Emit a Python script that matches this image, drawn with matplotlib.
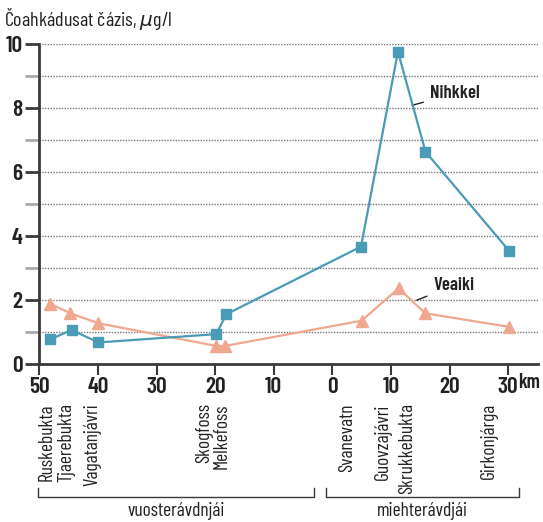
import matplotlib
matplotlib.use('Agg')
import matplotlib.pyplot as plt
from matplotlib.ticker import FixedLocator

# --------------------------------------------------------------------------------------
# Data (distance along river, km; west side negative)

stations    = ['Ruskebukta', 'Tjaerebukta', 'Vagatanjávri', 'Skogfoss', 'Melkefoss',
               'Svanevatn', 'Guovzajávri', 'Skrukkebukta', 'Girkonjárga']
distNi      = [-48.1, -44.5, -39.9, -19.8, -18.1, 4.9, 11.2, 15.9, 30.2]
nickel      = [0.76, 1.05, 0.66, 0.92, 1.54, 3.66, 9.76, 6.63, 3.52]
distCu      = [-48.1, -44.7, -39.9, -19.8, -18.3, 5.0, 11.3, 15.9, 30.1]
copper      = [1.87, 1.57, 1.26, 0.55, 0.55, 1.34, 2.35, 1.57, 1.15]

xTicks      = [-50, -40, -30, -20, -10, 0, 10, 20, 30]
xLabels     = ['50', '40', '30', '20', '10', '0', '10', '20', '30']
yTicks      = [0, 2, 4, 6, 8, 10]

# --------------------------------------------------------------------------------------
# Style

font        = 'Barlow Condensed'
plt.rcParams['font.family'] = [font, 'DejaVu Sans']
plt.rcParams['mathtext.fontset'] = 'custom'
plt.rcParams['mathtext.it'] = 'DejaVu Sans:italic'

niCol       = '#4a9bb6'
cuCol       = '#f0a78f'
axCol       = '#3a3a3a'
txtCol      = '#222222'

# --------------------------------------------------------------------------------------
# Chart

fig = plt.figure(figsize=(5.43, 5.22), dpi=100)
ax  = fig.add_axes([0.0724, 0.3036, 0.9184, 0.6121])

ax.plot(distCu, copper, color=cuCol, lw=1.6, marker='^', ms=8, zorder=3)
ax.plot(distNi, nickel, color=niCol, lw=1.6, marker='s', ms=7.5, zorder=4)

ax.set_xlim(-50, 35.1)
ax.set_ylim(0, 10)

for s in ['top', 'right']:
    ax.spines[s].set_visible(False)
for s in ['left', 'bottom']:
    ax.spines[s].set_color(axCol)
    ax.spines[s].set_linewidth(2)

# grid
for v in range(1, 11):
    ax.axhline(v, color='#777777', lw=1, ls=(0, (1, 1)), zorder=1)

# y
ax.yaxis.set_major_locator(FixedLocator(yTicks))
ax.yaxis.set_minor_locator(FixedLocator([1, 3, 5, 7, 9]))
ax.tick_params(axis='y', which='major', length=10, width=2, color=axCol,
               labelsize=17, pad=2, labelcolor=txtCol)
ax.tick_params(axis='y', which='minor', length=10, width=2, color='#aaaaaa')
for lab in ax.get_yticklabels():
    lab.set_fontweight('semibold')

# x
ax.set_xticks(xTicks)
ax.set_xticklabels(xLabels, fontsize=17, fontweight='semibold', color=txtCol)
ax.tick_params(axis='x', length=8, width=1.5, color=axCol, pad=2)
ax.text(31.7, -0.03, 'km', transform=ax.get_xaxis_transform(), fontsize=14.5,
        fontweight='semibold', va='top', ha='left', color=txtCol)

# title
fig.text(0.008, 0.988, 'Čoahkádusat čázis, $\\mu$g/l', fontsize=14.5, va='top',
         ha='left', color=txtCol)

# series labels
ax.annotate('Nihkkel', xy=(13.6, 8.08), xytext=(16.7, 8.45), fontsize=13.5,
            fontweight='semibold', va='center', ha='left', color=txtCol,
            arrowprops=dict(arrowstyle='-', color=txtCol, lw=1, shrinkA=3, shrinkB=0))
ax.annotate('Veaiki', xy=(14.4, 1.98), xytext=(17.3, 2.45), fontsize=13.5,
            fontweight='semibold', va='center', ha='left', color=txtCol,
            arrowprops=dict(arrowstyle='-', color=txtCol, lw=1, shrinkA=3, shrinkB=0))

# station names
labelX = [-48.8, -45.4, -41.0, -21.9, -18.9, 2.6, 8.7, 12.8, 26.7]
tr = ax.get_xaxis_transform()
for name, lx in zip(stations, labelX):
    ax.text(lx, -0.124, name, transform=tr, rotation=90, ha='center', va='top',
            fontsize=14, color=txtCol, clip_on=False)

# brackets
for x0, x1, lab in [(-50.2, -3.2, 'vuosterávdnjái'), (-1.0, 31.9, 'miehterávdjái')]:
    ax.plot([x0, x0, x1, x1], [-0.390, -0.418, -0.418, -0.390], transform=tr,
            color=axCol, lw=1, clip_on=False)
    ax.text((x0 + x1) / 2, -0.462, lab, transform=tr, ha='center', va='center',
            fontsize=14, color=txtCol)

fig.savefig('out.png', dpi=100)
